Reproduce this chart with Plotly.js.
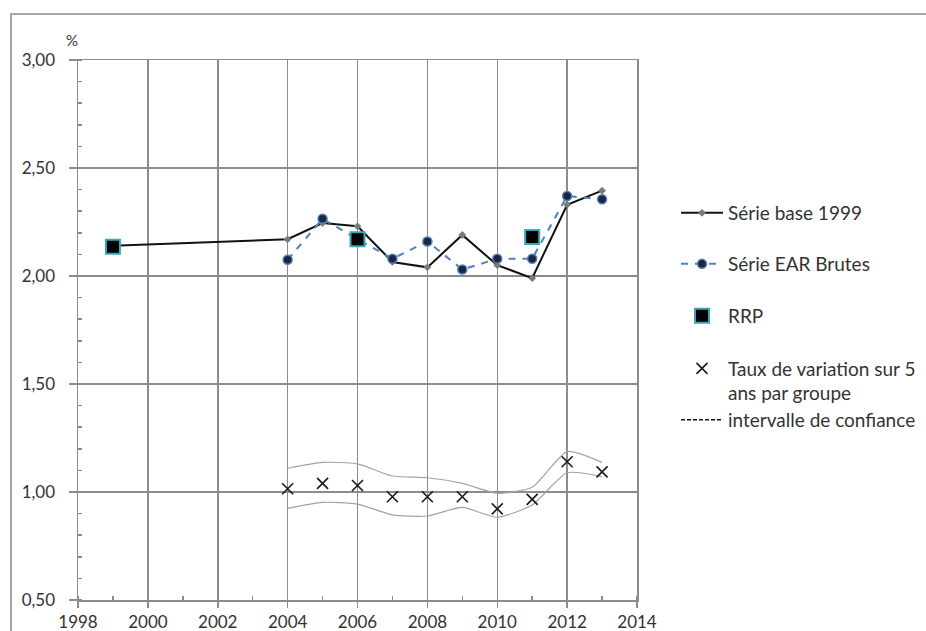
<!DOCTYPE html>
<html>
<head>
<meta charset="utf-8">
<script src="https://cdn.plot.ly/plotly-3.0.1.min.js"></script>
<style>
  html, body { margin: 0; padding: 0; background: #ffffff; }
  #frame { position: absolute; left: 10px; top: 13px; width: 1000px; height: 1000px;
           border-left: 2px solid #a6a6a6; border-top: 2px solid #a6a6a6; }
  #chart { position: absolute; left: 0; top: 0; width: 926px; height: 631px; }
</style>
</head>
<body>
<div id="frame"></div>
<div id="chart"></div>
<script>
// ---- Data ----
var yearsBase = [1999, 2004, 2005, 2006, 2007, 2008, 2009, 2010, 2011, 2012, 2013];
var serieBase1999 = [2.14, 2.17, 2.245, 2.23, 2.065, 2.04, 2.19, 2.05, 1.99, 2.33, 2.395];

var yearsEAR = [2004, 2005, 2006, 2007, 2008, 2009, 2010, 2011, 2012, 2013];
var serieEAR = [2.075, 2.265, 2.17, 2.08, 2.16, 2.03, 2.08, 2.08, 2.37, 2.355];

var yearsRRP = [1999, 2006, 2011];
var rrp = [2.135, 2.17, 2.18];

var yearsTaux = [2004, 2005, 2006, 2007, 2008, 2009, 2010, 2011, 2012, 2013];
var taux = [1.015, 1.04, 1.03, 0.978, 0.978, 0.978, 0.922, 0.966, 1.14, 1.093];
var ciUpper = [1.11, 1.137, 1.13, 1.074, 1.066, 1.04, 0.994, 1.022, 1.187, 1.137];
var ciLower = [0.924, 0.952, 0.944, 0.894, 0.889, 0.929, 0.883, 0.94, 1.089, 1.071];

var legendNames = ["Série base 1999", "Série EAR Brutes", "RRP",
                   "Taux de variation sur 5<br>ans par groupe", "intervalle de confiance"];

// ---- Layout geometry ----
var W = 926, H = 631;
var M = {l: 78, r: 289, t: 60, b: 31, autoexpand: false};
var pw = W - M.l - M.r, ph = H - M.t - M.b;
function px2x(px) { return (px - M.l) / pw; }
function py2y(py) { return (H - M.b - py) / ph; }

var gridC = '#8c8c8c';
var textC = '#333333';
var fontFam = 'Lato, "Open Sans", sans-serif';

var traces = [
  { x: yearsTaux, y: ciUpper, mode: 'lines', line: {color: '#a3a3a3', width: 1.2, shape: 'spline', smoothing: 0.6},
    showlegend: false, hoverinfo: 'skip' },
  { x: yearsTaux, y: ciLower, mode: 'lines', line: {color: '#a3a3a3', width: 1.2, shape: 'spline', smoothing: 0.6},
    showlegend: false, hoverinfo: 'skip' },
  { x: yearsTaux, y: taux, mode: 'markers', name: legendNames[3], legend: 'legend4',
    marker: {symbol: 'x-thin-open', size: 11, color: '#1a1a1a', line: {color: '#1a1a1a', width: 1.6}} },
  { x: [null], y: [null], mode: 'lines', name: legendNames[4], legend: 'legend5',
    line: {color: '#111111', width: 1.5, dash: '4px,2px'} },
  { x: yearsBase, y: serieBase1999, mode: 'lines+markers', name: legendNames[0], legend: 'legend',
    line: {color: '#111111', width: 2},
    marker: {symbol: 'diamond', size: 6, color: '#7a7a7a'} },
  { x: yearsEAR, y: serieEAR, mode: 'lines+markers', name: legendNames[1], legend: 'legend2',
    line: {color: '#4f81bd', width: 2, dash: '7px,7px'},
    marker: {symbol: 'circle', size: 9, color: '#1c2541', line: {color: '#4f81bd', width: 1.5}} },
  { x: yearsRRP, y: rrp, mode: 'markers', name: legendNames[2], legend: 'legend3',
    marker: {symbol: 'square', size: 14, color: '#000000', line: {color: '#3aa6b9', width: 2}} }
];

function leg(pxLeft, pyCenter, valign) {
  return { x: px2x(pxLeft), y: py2y(pyCenter), xanchor: 'left', yanchor: 'middle',
           bgcolor: 'rgba(0,0,0,0)', borderwidth: 0, valign: valign || 'middle',
           font: {family: fontFam, size: 19, color: textC}, itemwidth: 42 };
}

var layout = {
  width: W, height: H,
  margin: M,
  paper_bgcolor: 'rgba(0,0,0,0)',
  plot_bgcolor: '#ffffff',
  separators: ', ',
  font: {family: fontFam, size: 17, color: textC},
  xaxis: {
    range: [1998, 2014], dtick: 2, tick0: 1998,
    showgrid: true, gridcolor: gridC, gridwidth: 1.5,
    showline: true, linecolor: gridC, linewidth: 1.5, mirror: true,
    ticks: 'outside', ticklen: 6, tickcolor: gridC, tickwidth: 1.5,
    minor: {dtick: 1, tick0: 1998, ticks: 'inside', ticklen: 4, tickcolor: gridC, tickwidth: 1.5, showgrid: false},
    zeroline: false, fixedrange: true,
    tickfont: {family: fontFam, size: 17, color: textC}
  },
  yaxis: {
    range: [0.5, 3.0], dtick: 0.5, tick0: 0.5, tickformat: '.2f',
    showgrid: true, gridcolor: gridC, gridwidth: 1.5,
    showline: true, linecolor: gridC, linewidth: 1.5, mirror: true,
    ticks: 'outside', ticklen: 8, tickcolor: gridC, tickwidth: 1.5,
    ticklabelstandoff: 10,
    minor: {dtick: 0.1, tick0: 0.5, ticks: 'inside', ticklen: 4, tickcolor: gridC, tickwidth: 1.5, showgrid: false},
    zeroline: false, fixedrange: true,
    tickfont: {family: fontFam, size: 17, color: textC}
  },
  showlegend: true,
  legend: leg(676, 213),
  legend2: leg(676, 264),
  legend3: leg(676, 316),
  legend4: leg(676, 381, 'top'),
  legend5: leg(676, 420),
  annotations: [
    { text: '%', xref: 'paper', yref: 'paper', x: px2x(72), y: py2y(40), xanchor: 'center', yanchor: 'middle',
      showarrow: false, font: {family: fontFam, size: 15, color: textC} }
  ]
};

Plotly.newPlot('chart', traces, layout, {displayModeBar: false, staticPlot: true});
</script>
</body>
</html>
